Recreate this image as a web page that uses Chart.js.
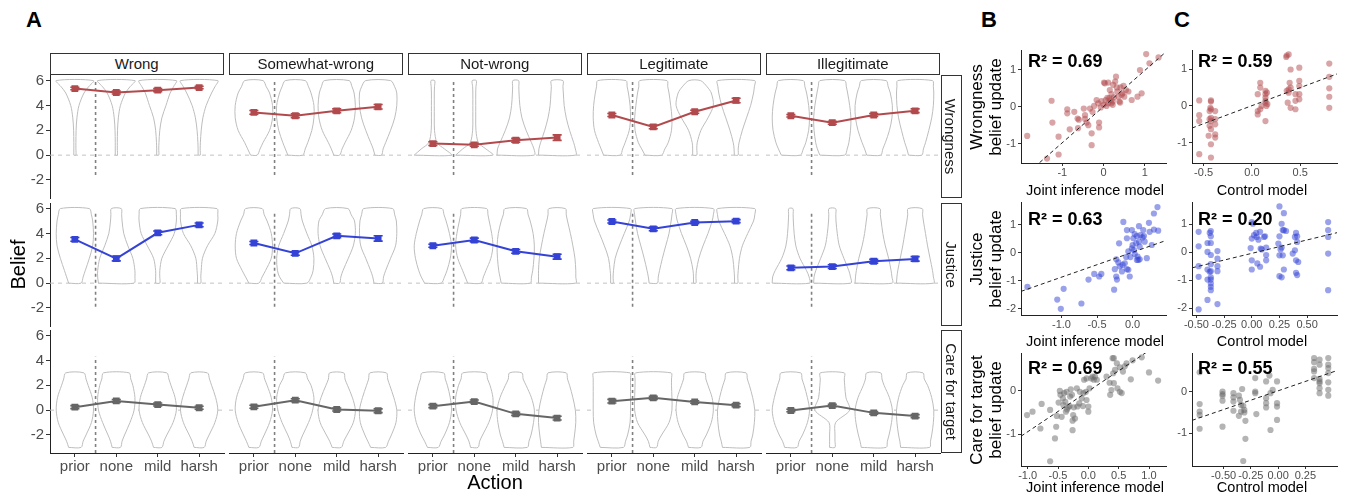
<!DOCTYPE html>
<html>
<head>
<meta charset="utf-8">
<script src="https://cdn.jsdelivr.net/npm/chart.js@4.4.0/dist/chart.umd.min.js"></script>
<style>
  body { margin: 0; background: #fff; font-family: "Liberation Sans", Arial, Helvetica, sans-serif; }
  #fig { position: relative; width: 1347px; height: 498px; overflow: hidden; background: #fff; }
  #fig canvas { position: absolute; }
  .txt { position: absolute; white-space: nowrap; transform: translate(-50%, -50%); color: #000; }
  .strip { position: absolute; box-sizing: border-box; border: 1px solid #333; background: #fff;
           font-size: 15px; color: #1a1a1a; display: flex; align-items: center; justify-content: center; }
  .strip span { white-space: nowrap; }
  .vt { position: absolute; display: flex; align-items: center; justify-content: center; }
  .vt span { white-space: nowrap; text-align: center; }
</style>
</head>
<body>
<div id="fig"></div>
<script>
// ---------- Panel A data ----------
const actions = ['prior', 'none', 'mild', 'harsh'];
const conditions = ['Wrong', 'Somewhat-wrong', 'Not-wrong', 'Legitimate', 'Illegitimate'];
const beliefs = ['Wrongness', 'Justice', 'Care for target'];
const beliefTicks = [-2, 0, 2, 4, 6];

// means per condition (prior, none, mild, harsh)
const wrongnessMeans = [[5.36, 5.04, 5.23, 5.44], [3.44, 3.17, 3.57, 3.89], [0.93, 0.83, 1.2, 1.41], [3.23, 2.27, 3.49, 4.4], [3.17, 2.61, 3.23, 3.57]];
const justiceMeans = [[3.52, 1.97, 4.05, 4.69], [3.23, 2.4, 3.81, 3.6], [3.01, 3.47, 2.56, 2.13], [4.96, 4.37, 4.88, 4.99], [1.23, 1.33, 1.76, 1.95]];
const careMeans = [[0.24, 0.74, 0.45, 0.19], [0.27, 0.8, 0.05, -0.05], [0.32, 0.69, -0.3, -0.64], [0.72, 0.99, 0.66, 0.4], [-0.03, 0.37, -0.22, -0.48]];

// standard errors
const wrongnessSE = [[0.1, 0.12, 0.12, 0.1], [0.15, 0.15, 0.15, 0.18], [0.15, 0.12, 0.15, 0.22], [0.12, 0.15, 0.12, 0.18], [0.1, 0.12, 0.12, 0.15]];
const justiceSE = [[0.15, 0.18, 0.15, 0.15], [0.12, 0.15, 0.15, 0.22], [0.12, 0.15, 0.15, 0.2], [0.12, 0.15, 0.1, 0.12], [0.15, 0.15, 0.15, 0.18]];
const careSE = [[0.12, 0.12, 0.12, 0.12], [0.12, 0.12, 0.12, 0.15], [0.12, 0.12, 0.12, 0.15], [0.15, 0.12, 0.1, 0.12], [0.1, 0.1, 0.1, 0.12]];

// violin half-widths (category units) at these belief levels
const violinLevels = [0, 0.5, 1, 2, 3, 4, 5, 5.5, 6];
const careViolinLevels = [-3, -2.5, -2, -1, 0, 1, 2, 2.5, 3];

const wrongnessViolins = [
  [[.025,.025,.025,.03,.05,.1,.22,.33,.45], [.025,.025,.025,.03,.05,.1,.22,.33,.45], [.025,.025,.03,.05,.1,.2,.3,.38,.45], [.025,.025,.03,.05,.09,.17,.3,.38,.45]],
  [[.08,.15,.22,.38,.45,.45,.38,.3,.22], [.18,.24,.3,.4,.45,.45,.38,.32,.24], [.07,.13,.2,.35,.43,.45,.42,.37,.3], [.08,.12,.18,.3,.4,.45,.45,.4,.3]],
  [[.45,.28,.1,.04,.035,.035,.035,.04,.045], [.45,.28,.1,.04,.035,.035,.035,.04,.05], [.45,.44,.38,.25,.15,.1,.08,.075,.07], [.45,.44,.4,.3,.22,.17,.15,.14,.14]],
  [[.2,.26,.32,.42,.45,.44,.4,.37,.34], [.2,.28,.36,.44,.45,.42,.38,.35,.33], [.05,.05,.06,.15,.32,.45,.4,.3,.14], [.045,.05,.07,.15,.25,.35,.42,.44,.45]],
  [[.23,.3,.36,.43,.45,.43,.38,.34,.3], [.3,.36,.4,.44,.45,.42,.37,.34,.3], [.17,.22,.28,.38,.44,.45,.4,.35,.3], [.16,.2,.25,.33,.4,.44,.45,.44,.42]]
];
const justiceViolins = [
  [[.15,.2,.25,.35,.43,.45,.43,.4,.35], [.43,.45,.45,.4,.28,.18,.14,.13,.12], [.05,.05,.05,.1,.25,.4,.45,.45,.42], [.04,.04,.05,.08,.2,.38,.45,.45,.43]],
  [[.12,.2,.28,.42,.45,.42,.32,.25,.2], [.28,.38,.43,.45,.4,.28,.17,.14,.11], [.07,.1,.15,.28,.4,.45,.43,.35,.27], [.1,.13,.18,.3,.42,.45,.44,.4,.35]],
  [[.2,.28,.34,.42,.45,.4,.32,.27,.22], [.16,.22,.28,.4,.45,.42,.36,.33,.3], [.35,.38,.41,.44,.45,.42,.35,.3,.26], [.45,.45,.45,.43,.38,.32,.25,.22,.2]],
  [[.03,.03,.04,.08,.18,.3,.42,.45,.45], [.1,.12,.15,.22,.3,.38,.43,.45,.45], [.03,.03,.04,.1,.2,.32,.42,.45,.45], [.04,.04,.05,.08,.15,.28,.42,.45,.45]],
  [[.45,.44,.38,.22,.12,.08,.06,.055,.05], [.45,.44,.4,.28,.17,.12,.09,.085,.08], [.45,.44,.42,.36,.28,.22,.18,.16,.15], [.45,.44,.42,.36,.3,.25,.2,.18,.17]]
];
const careViolins = [
  [[.15,.2,.27,.4,.45,.42,.32,.27,.22], [.1,.14,.2,.33,.43,.45,.4,.35,.31], [.1,.15,.22,.37,.45,.42,.32,.27,.22], [.12,.17,.24,.38,.45,.4,.3,.25,.2]],
  [[.12,.18,.25,.38,.45,.42,.32,.26,.21], [.08,.12,.18,.32,.42,.45,.38,.3,.24], [.11,.17,.25,.4,.45,.38,.26,.2,.17], [.18,.25,.32,.43,.45,.38,.28,.23,.2]],
  [[.13,.2,.28,.4,.45,.42,.35,.3,.26], [.09,.13,.2,.35,.44,.45,.38,.32,.28], [.28,.32,.37,.43,.45,.38,.25,.18,.15], [.38,.4,.42,.45,.44,.38,.3,.25,.22]],
  [[.28,.33,.38,.44,.45,.45,.45,.45,.44], [.08,.12,.2,.38,.45,.45,.44,.44,.43], [.15,.2,.28,.4,.45,.42,.32,.27,.24], [.33,.36,.4,.44,.45,.4,.32,.27,.24]],
  [[.15,.2,.28,.4,.45,.4,.32,.27,.24], [.065,.065,.065,.08,.42,.33,.3,.29,.29], [.3,.33,.37,.43,.45,.38,.25,.2,.17], [.35,.37,.4,.44,.45,.4,.3,.22,.19]]
];

// vertical dashed "prior" divider extent per row
const priorDivider = [[-1.6, 6], [-1.9, 5.75], [-3.45, 4.3]];

// ---------- Panels B / C data ----------
const jointWrongness = [[-1.85,-0.79],[-1.26,0.16],[-1.24,-0.43],[-1.37,-1.4],[-1.09,-0.81],[-1.09,-1.29],[-0.88,-0.07],[-0.88,-0.18],[-0.82,-0.61],[-0.71,-0.14],[-0.63,-0.32],[-0.6,-0.35],[-0.62,-0.58],[-0.48,-0.05],[-0.45,-0.23],[-0.45,-0.33],[-0.41,-0.43],[-0.37,-0.5],[-0.33,-0.05],[-0.29,-0.72],[-0.29,-1.04],[-0.27,-0.14],[-0.23,0.02],[-0.17,0.18],[-0.13,0.09],[-0.11,-0.43],[-0.11,-0.56],[-0.07,-0.02],[-0.05,0.15],[0,0.05],[0.01,0.65],[0.03,0.63],[0.05,0.18],[0.07,0.02],[0.09,0.24],[0.11,0.09],[0.14,0.23],[0.15,0.45],[0.17,0.18],[0.19,0.34],[0.22,0.14],[0.22,0.05],[0.23,0.59],[0.25,0.25],[0.28,0.68],[0.3,0.81],[0.32,0.52],[0.33,0.41],[0.36,0.27],[0.38,0.14],[0.4,0.11],[0.41,0.52],[0.44,0.32],[0.46,0.36],[0.48,0.56],[0.5,0.27],[0.54,0.45],[0.6,0.41],[0.68,0.18],[0.82,0.27],[0.88,0.99],[0.92,0.36],[1.03,1.42],[1.11,1.17],[1.33,1.33],[0.19,0.09],[0.11,0.65]];
const controlWrongness = [[-0.545,0.15],[-0.545,-0.25],[-0.545,-0.41],[-0.545,-1.31],[-0.424,0.15],[-0.424,0.12],[-0.43,-0.05],[-0.438,-0.14],[-0.424,-0.32],[-0.424,-0.41],[-0.438,-0.54],[-0.424,-0.63],[-0.448,-0.81],[-0.424,-1.04],[-0.424,-1.4],[-0.38,-0.14],[-0.38,-0.36],[-0.38,-0.5],[-0.38,-0.77],[-0.38,-0.86],[-0.424,-0.09],[-0.438,-0.36],[0.06,0.32],[0.06,-0.14],[0.06,-0.23],[0.086,0.63],[0.086,0.5],[0.1,0],[0.14,0.41],[0.14,0.32],[0.14,0.23],[0.14,0.14],[0.14,0.09],[0.14,-0.41],[0.15,0],[0.155,0.36],[0.16,0.05],[0.086,-0.09],[0.36,1.37],[0.38,1.4],[0.36,0.41],[0.37,0.09],[0.38,0.36],[0.39,0.63],[0.4,0.99],[0.4,0.5],[0.4,-0.05],[0.45,0.32],[0.45,0.14],[0.45,-0.09],[0.49,1.04],[0.49,0.68],[0.49,0.54],[0.49,0.32],[0.49,0.18],[0.38,0.45],[0.355,1.33],[0.8,1.15],[0.8,0.79],[0.8,0.48],[0.8,0.25],[0.8,-0.05]];
const jointJustice = [[-1.48,-1.22],[-1.06,-1.67],[-1.01,-2.0],[-0.97,-1.29],[-0.72,-1.81],[-0.62,-0.96],[-0.54,-0.76],[-0.47,-0.85],[-0.44,-0.76],[-0.26,-1.32],[-0.25,-0.59],[-0.23,-0.24],[-0.23,-0.85],[-0.22,-0.96],[-0.2,-0.35],[-0.19,0.33],[-0.18,-0.49],[-0.15,-0.67],[-0.14,-0.44],[-0.13,1.09],[-0.11,-0.38],[-0.09,-0.16],[-0.08,0.8],[-0.08,0.51],[-0.08,-0.59],[-0.06,0.04],[-0.06,-0.61],[-0.04,-0.85],[-0.03,-0.16],[-0.01,0.8],[-0.01,0.15],[0,0.27],[0.01,0.51],[0.02,0.09],[0.03,0.66],[0.03,-0.05],[0.05,0.33],[0.06,0.59],[0.07,-0.14],[0.08,-0.26],[0.09,0.94],[0.09,0.39],[0.1,0.21],[0.11,0.62],[0.14,0.54],[0.15,0.8],[0.16,0.59],[0.17,0.39],[0.2,-0.2],[0.23,1.06],[0.24,0.74],[0.27,0.27],[0.3,0.82],[0.3,1.39],[0.35,1.62],[0.36,0.78],[0.06,-0.26],[0.1,-0.24]];
const controlJustice = [[-0.48,0.73],[-0.48,0.21],[-0.48,-0.5],[-0.48,-0.88],[-0.48,-2.05],[-0.4,0.33],[-0.4,0.01],[-0.4,-0.62],[-0.4,-0.98],[-0.4,-1.71],[-0.38,0.69],[-0.37,0.76],[-0.37,0.57],[-0.37,0.33],[-0.37,-0.1],[-0.37,-0.43],[-0.37,-0.68],[-0.37,-0.9],[-0.37,-0.98],[-0.37,-1.24],[-0.37,-1.36],[-0.31,0.04],[-0.31,-0.23],[-0.31,-0.5],[-0.31,-0.68],[-0.31,-1.86],[-0.38,-0.7],[-0.37,-1.12],[0,1.08],[0.01,1.02],[0,0.49],[0.02,0.61],[0.04,0.69],[0.045,0.55],[0.05,-0.4],[0,-0.29],[0,-0.62],[0.075,0.73],[0.08,0.13],[0.09,0.1],[0.11,0.55],[0.12,0.57],[0.13,0.17],[0.13,-0.1],[0.13,-0.29],[0.06,0.45],[-0.01,0.15],[0.075,-0.52],[0.25,1.64],[0.29,1.4],[0.27,1.02],[0.28,0.79],[0.29,0.79],[0.25,0.57],[0.24,0.31],[0.25,-0.11],[0.26,0.1],[0.27,0.17],[0.28,-0.11],[0.25,-0.86],[0.27,-0.9],[0.29,-0.62],[0.31,0.76],[0.39,0.55],[0.4,0.69],[0.41,0.57],[0.41,0.37],[0.39,0.07],[0.4,-0.29],[0.4,-0.74],[0.41,-0.82],[0.37,-0.05],[0.42,-0.35],[0.69,1.08],[0.69,0.79],[0.69,0.55],[0.69,-0.05],[0.69,-1.36]];
const jointCare = [[-1.01,-0.56],[-0.92,-0.48],[-0.79,-0.87],[-0.77,-0.3],[-0.63,-0.44],[-0.63,-1.63],[-0.55,-1.1],[-0.53,-0.83],[-0.52,-0.58],[-0.49,-0.27],[-0.47,0],[-0.46,-0.09],[-0.44,-0.6],[-0.42,-0.17],[-0.41,-0.33],[-0.4,-0.05],[-0.38,-0.25],[-0.37,-0.48],[-0.36,-0.02],[-0.35,-0.43],[-0.33,-0.38],[-0.31,-0.35],[-0.3,-0.13],[-0.29,0.04],[-0.27,-0.09],[-0.26,-0.69],[-0.26,-0.91],[-0.25,-0.56],[-0.24,-0.38],[-0.22,-0.64],[-0.19,0.06],[-0.18,-0.36],[-0.15,-0.29],[-0.14,-0.02],[-0.11,-0.17],[-0.09,-0.35],[-0.08,-0.05],[-0.07,0.26],[-0.04,-0.02],[-0.03,-0.21],[0,-0.48],[0,-0.36],[0.02,0.06],[-0.03,0.29],[0.05,0.29],[0.07,0.33],[0.09,0.26],[0.11,0.33],[0.14,0.26],[0.35,0.19],[0.36,-0.09],[0.38,0.02],[0.4,0.76],[0.42,0.76],[0.42,0.18],[0.44,0.49],[0.47,0.64],[0.48,0.06],[0.52,0.55],[0.52,-0.02],[0.55,-0.05],[0.57,0.45],[0.6,0.57],[0.63,0.64],[0.7,0.27],[0.73,0.71],[0.88,0.78],[1.0,0.43],[1.15,0.24],[0.41,0.41],[0.3,0.33]];
const controlCare = [[-0.72,0.46],[-0.72,-0.3],[-0.72,-0.48],[-0.72,-0.56],[-0.72,-0.89],[-0.51,0],[-0.51,-0.06],[-0.51,-0.1],[-0.51,-0.22],[-0.51,-0.84],[-0.41,-0.04],[-0.41,-0.14],[-0.41,-0.24],[-0.41,-0.46],[-0.36,-0.1],[-0.35,-0.2],[-0.34,-0.32],[-0.34,-0.48],[-0.36,-0.58],[-0.33,0.06],[-0.32,-0.34],[-0.31,-0.44],[-0.3,-0.7],[-0.3,-1.13],[-0.32,-1.66],[-0.31,-0.5],[-0.21,0.32],[-0.21,0],[-0.21,-0.04],[-0.2,-0.54],[-0.11,0.24],[-0.11,-0.16],[-0.11,-0.28],[-0.11,-0.38],[-0.08,0.38],[-0.07,-0.04],[-0.07,-0.92],[-0.05,0.04],[-0.01,0.24],[-0.01,-0.28],[-0.01,-0.36],[-0.01,-0.68],[0.33,0.8],[0.33,0.7],[0.33,0.54],[0.33,0.48],[0.33,0.32],[0.38,0.76],[0.38,0.64],[0.38,0.3],[0.38,0.24],[0.38,0.08],[0.38,-0.04],[0.46,0.8],[0.46,0.64],[0.46,0.44],[0.46,0.22],[0.46,0.04],[0.46,-0.1],[0.46,0.56],[0.38,0.2]];

// dashed fit lines (two points)
const fitLines = [
  [[[-1.55, -1.51], [1.5, 1.47]], [[-0.62, -0.6], [0.88, 0.87]]],
  [[[-1.57, -1.38], [0.47, 0.43]], [[-0.54, -0.56], [0.77, 0.7]]],
  [[[-1.11, -1.05], [0.95, 0.89]], [[-0.79, -0.69], [0.54, 0.5]]]
];
const r2Labels = [['0.69', '0.59'], ['0.63', '0.20'], ['0.69', '0.55']];

const jointXTicks = [[-1, 0, 1], [-1, -0.5, 0], [-1, -0.5, 0, 0.5, 1]];
const controlXTicks = [[-0.5, 0, 0.5], [-0.5, -0.25, 0, 0.25, 0.5], [-0.5, -0.25, 0, 0.25]];
const jointXDecimals = [0, 1, 1];
const controlXDecimals = [1, 2, 2];
const updateYTicks = [[-1, 0, 1], [-2, -1, 0, 1], [-1, 0]];
const jointXRange = [[-2.0, 1.51], [-1.57, 0.47], [-1.11, 1.28]];
const controlXRange = [[-0.62, 0.88], [-0.54, 0.77], [-0.79, 0.54]];
const jointYRange = [[-1.52, 1.53], [-2.22, 1.8], [-1.74, 0.88]];
const controlYRange = [[-1.55, 1.52], [-2.25, 1.8], [-1.78, 0.92]];

// ---------- styling ----------
const family = '"Liberation Sans", Arial, Helvetica, sans-serif';
Chart.defaults.font.family = family;
const rowColors = ['#b24a4d', '#3443d6', '#666666'];
const pointColors = ['rgba(178,74,77,0.5)', 'rgba(52,67,214,0.5)', 'rgba(105,105,105,0.5)'];
const fig = document.getElementById('fig');

const rowMeans = [wrongnessMeans, justiceMeans, careMeans];
const rowSE = [wrongnessSE, justiceSE, careSE];
const rowViolins = [wrongnessViolins, justiceViolins, careViolins];

function addCanvas(left, top, w, h) {
  const cv = document.createElement('canvas');
  cv.width = Math.round(w); cv.height = Math.round(h);
  cv.style.left = left + 'px'; cv.style.top = top + 'px';
  cv.style.width = Math.round(w) + 'px'; cv.style.height = Math.round(h) + 'px';
  fig.appendChild(cv);
  return cv;
}
function addText(text, x, y, css) {
  const d = document.createElement('div');
  d.className = 'txt';
  d.textContent = text;
  d.style.left = x + 'px'; d.style.top = y + 'px';
  Object.assign(d.style, css || {});
  fig.appendChild(d);
  return d;
}
function addVertical(lines, x, y, w, h, rot, css) {
  const d = document.createElement('div');
  d.className = 'vt';
  Object.assign(d.style, { left: x + 'px', top: y + 'px', width: w + 'px', height: h + 'px' }, css || {});
  const s = document.createElement('span');
  s.innerHTML = lines.join('<br>');
  s.style.transform = 'rotate(' + rot + 'deg)';
  d.appendChild(s);
  fig.appendChild(d);
  return d;
}

// error bars for the mean line (dataset 0)
const errorBarPlugin = {
  id: 'errorBars',
  afterDatasetsDraw(chart) {
    const ds = chart.data.datasets[0];
    if (!ds.se) return;
    const xs = chart.scales.x, ys = chart.scales.y, ctx = chart.ctx;
    ctx.save();
    ctx.strokeStyle = ds.borderColor;
    ctx.lineWidth = 1.6;
    ds.data.forEach((p, i) => {
      const px = xs.getPixelForValue(p.x);
      const half = xs.getPixelForValue(p.x + 0.11) - px;
      const top = ys.getPixelForValue(p.y + ds.se[i]);
      const bot = ys.getPixelForValue(p.y - ds.se[i]);
      ctx.beginPath();
      ctx.moveTo(px, top); ctx.lineTo(px, bot);
      ctx.moveTo(px - half, top); ctx.lineTo(px + half, top);
      ctx.moveTo(px - half, bot); ctx.lineTo(px + half, bot);
      ctx.stroke();
    });
    ctx.restore();
  }
};

// ---------- Panel A: facet grid ----------
const colLeft = [50, 229, 408, 587, 766];
const facetW = 173.5;
const rowTop = [75, 203, 330];
const facetH = 123;
const P = 14;
const yAxisW = 32, xAxisH = 26;

function facetChart(r, c) {
  const yW = c === 0 ? yAxisW : 0;
  const xH = r === 2 ? xAxisH : 0;
  const cv = addCanvas(colLeft[c] - P - yW, rowTop[r] - P, facetW + 2 * P + yW, facetH + 2 * P + xH);
  const levels = r === 2 ? careViolinLevels : violinLevels;
  const datasets = [];
  datasets.push({
    data: rowMeans[r][c].map((m, i) => ({ x: i + 1, y: m })),
    se: rowSE[r][c],
    showLine: true, borderColor: rowColors[r], backgroundColor: rowColors[r],
    borderWidth: 2, pointStyle: 'rect', pointRadius: 3.4, order: 0
  });
  datasets.push({
    data: [{ x: 1.5, y: priorDivider[r][0] }, { x: 1.5, y: priorDivider[r][1] }],
    showLine: true, borderColor: '#808080', borderDash: [3, 3], borderWidth: 1.6, pointRadius: 0, order: 1
  });
  rowViolins[r][c].forEach((w, i) => {
    const cx = i + 1;
    const right = levels.map((y, k) => ({ x: cx + w[k], y }));
    const left = levels.map((y, k) => ({ x: cx - w[k], y })).reverse();
    datasets.push({
      data: [{ x: cx - w[0], y: levels[0] }, ...right, ...left],
      showLine: true, borderColor: '#bdbdbd', borderWidth: 1, backgroundColor: '#ffffff',
      fill: 'shape', tension: 0.3, pointRadius: 0, order: 2
    });
  });
  datasets.push({
    data: [{ x: 0.4, y: 0 }, { x: 4.6, y: 0 }],
    showLine: true, borderColor: '#c2c2c2', borderDash: [4, 4], borderWidth: 1, pointRadius: 0, order: 3
  });

  new Chart(cv, {
    type: 'scatter',
    data: { datasets },
    plugins: [errorBarPlugin],
    options: {
      responsive: false, animation: false, devicePixelRatio: 1,
      layout: { padding: P },
      plugins: { legend: { display: false }, tooltip: { enabled: false } },
      scales: {
        x: {
          type: 'linear', min: 0.4, max: 4.6, display: r === 2,
          afterBuildTicks: s => { s.ticks = actions.map((a, i) => ({ value: i + 1 })); },
          afterFit: r === 2 ? (s => { s.height = xAxisH; }) : undefined,
          ticks: { callback: v => actions[v - 1], color: '#4d4d4d', font: { size: 15 }, padding: 1, autoSkip: false, maxRotation: 0 },
          grid: { display: true, drawOnChartArea: false, drawTicks: true, tickLength: 4, color: '#333' },
          border: { display: true, color: '#222', width: 1 }
        },
        y: {
          type: 'linear', min: -3.45, max: 6.45, display: c === 0,
          afterBuildTicks: s => { s.ticks = beliefTicks.map(v => ({ value: v })); },
          afterFit: c === 0 ? (s => { s.width = yAxisW; }) : undefined,
          ticks: { color: '#4d4d4d', font: { size: 15 }, padding: 2 },
          grid: { display: true, drawOnChartArea: false, drawTicks: true, tickLength: 4, color: '#333' },
          border: { display: true, color: '#222', width: 1 }
        }
      }
    }
  });
}

for (let r = 0; r < 3; r++) {
  for (let c = 0; c < 5; c++) facetChart(r, c);
}

// strips
conditions.forEach((name, c) => {
  const d = document.createElement('div');
  d.className = 'strip';
  Object.assign(d.style, { left: colLeft[c] + 'px', top: '53px', width: facetW + 'px', height: '21.5px' });
  d.innerHTML = '<span>' + name + '</span>';
  fig.appendChild(d);
});
beliefs.forEach((name, r) => {
  addVertical([name], 940.5, rowTop[r], 21, facetH, 90, { border: '1px solid #333', boxSizing: 'border-box', fontSize: '15px', color: '#1a1a1a' });
});

addText('A', 34, 20, { fontSize: '22px', fontWeight: 'bold' });
addText('B', 989, 20, { fontSize: '22px', fontWeight: 'bold' });
addText('C', 1182, 20, { fontSize: '22px', fontWeight: 'bold' });
addVertical(['Belief'], 2, 214, 32, 100, -90, { fontSize: '20px' });
addText('Action', 495, 482, { fontSize: '20px' });

// ---------- Panels B / C: scatter plots ----------
const jointPoints = [jointWrongness, jointJustice, jointCare];
const controlPoints = [controlWrongness, controlJustice, controlCare];
const scatterLeft = [1021, 1192];
const scatterW = 145;
const scatterTop = [50, 202, 353];
const scatterH = 113;
const SP = 10, sYW = 22, sXH = 16;

function scatterChart(r, k) {
  const pts = k === 0 ? jointPoints[r] : controlPoints[r];
  const xt = k === 0 ? jointXTicks[r] : controlXTicks[r];
  const dec = k === 0 ? jointXDecimals[r] : controlXDecimals[r];
  const xr = k === 0 ? jointXRange[r] : controlXRange[r];
  const yr = k === 0 ? jointYRange[r] : controlYRange[r];
  const fit = fitLines[r][k];
  const cv = addCanvas(scatterLeft[k] - SP - sYW, scatterTop[r] - SP, scatterW + 2 * SP + sYW, scatterH + 2 * SP + sXH);
  new Chart(cv, {
    type: 'scatter',
    data: {
      datasets: [
        { data: fit.map(p => ({ x: p[0], y: p[1] })), showLine: true, borderColor: '#222', borderDash: [4, 3], borderWidth: 1, pointRadius: 0, order: 0 },
        { data: pts.map(p => ({ x: p[0], y: p[1] })), backgroundColor: pointColors[r], borderWidth: 0, pointRadius: 3.1, order: 1 }
      ]
    },
    options: {
      responsive: false, animation: false, devicePixelRatio: 1,
      layout: { padding: SP },
      plugins: { legend: { display: false }, tooltip: { enabled: false } },
      scales: {
        x: {
          type: 'linear', min: xr[0], max: xr[1],
          afterBuildTicks: s => { s.ticks = xt.map(v => ({ value: v })); },
          afterFit: s => { s.height = sXH; },
          ticks: { callback: v => v.toFixed(dec), color: '#4d4d4d', font: { size: 11 }, padding: 0, autoSkip: false, maxRotation: 0 },
          grid: { display: true, drawOnChartArea: false, drawTicks: true, tickLength: 3, color: '#333' },
          border: { display: true, color: '#222', width: 1 }
        },
        y: {
          type: 'linear', min: yr[0], max: yr[1],
          afterBuildTicks: s => { s.ticks = updateYTicks[r].map(v => ({ value: v })); },
          afterFit: s => { s.width = sYW; },
          ticks: { color: '#4d4d4d', font: { size: 11 }, padding: 2 },
          grid: { display: true, drawOnChartArea: false, drawTicks: true, tickLength: 3, color: '#333' },
          border: { display: true, color: '#222', width: 1 }
        }
      }
    }
  });
}

const r2Y = [61, 219, 368];
const xTitleY = [190, 341, 487];
const yTitleLines = [['Wrongness', 'belief update'], ['Justice', 'belief update'], ['Care for target', 'belief update']];
for (let r = 0; r < 3; r++) {
  scatterChart(r, 0);
  scatterChart(r, 1);
  addText('Joint inference model', 1095, xTitleY[r], { fontSize: '14.5px' });
  addText('Control model', 1262, xTitleY[r], { fontSize: '14.5px' });
  addVertical(yTitleLines[r], 964, scatterTop[r] - 10, 44, scatterH + 20, -90, { fontSize: '17px', lineHeight: '19px' });
  [0, 1].forEach(k => {
    addText('R² = ' + r2Labels[r][k], [1028, 1198][k], r2Y[r], { fontSize: '18px', fontWeight: 'bold', transform: 'translate(0,-50%)' });
  });
}
</script>
</body>
</html>
